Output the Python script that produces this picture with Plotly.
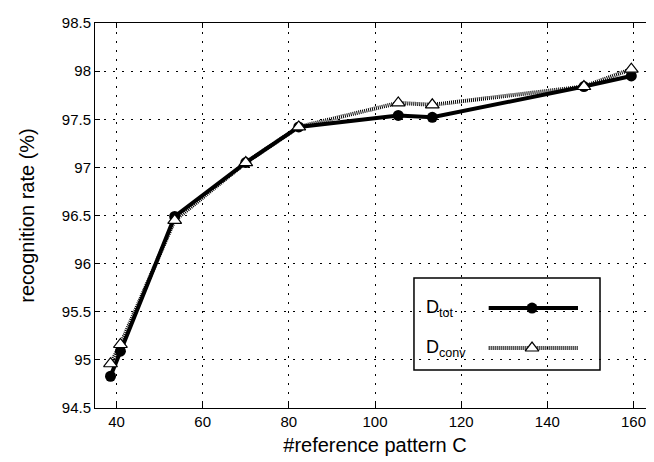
import plotly.graph_objects as go

# ---- data ----
x_vals = [38.6, 40.9, 53.5, 70.0, 82.3, 105.4, 113.3, 148.5, 159.5]
y_tot = [94.83, 95.09, 96.49, 97.05, 97.42, 97.54, 97.52, 97.84, 97.95]
y_conv = [94.96, 95.16, 96.45, 97.05, 97.42, 97.67, 97.65, 97.84, 98.02]
x_ticks = [40, 60, 80, 100, 120, 140, 160]
y_ticks = [94.5, 95, 95.5, 96, 96.5, 97, 97.5, 98, 98.5]
series_names = ["D<sub>tot</sub>", "D<sub>conv</sub>"]

FONT = "Liberation Sans, Arial, sans-serif"

fig = go.Figure()

fig.add_trace(go.Scatter(
    x=x_vals, y=y_tot, mode="lines+markers", name=series_names[0],
    line=dict(color="black", width=4),
    marker=dict(symbol="circle", size=11, color="black"),
    showlegend=False))
fig.add_trace(go.Scatter(
    x=x_vals, y=y_conv, mode="lines+markers", name=series_names[1],
    line=dict(color="black", width=4, dash="1px,1px"),
    marker=dict(symbol="triangle-up", size=12, color="white",
                line=dict(color="black", width=1.2)),
    showlegend=False))

# ---- custom legend (paper coordinates of the plot area) ----
lx0, lx1, ly0, ly1 = 0.5696, 0.9018, 0.0987, 0.3377
row_y = [0.2597, 0.1558]
seg_x0, seg_x1, mark_x = 0.703, 0.8625, 0.7804
text_x = 0.587

fig.add_shape(type="rect", xref="paper", yref="paper",
              x0=lx0, x1=lx1, y0=ly0, y1=ly1,
              line=dict(color="black", width=1.5), fillcolor="white", layer="between")

fig.add_trace(go.Scatter(
    x=[seg_x0, seg_x1], y=[row_y[0], row_y[0]], mode="lines",
    line=dict(color="black", width=4), xaxis="x2", yaxis="y2",
    showlegend=False, hoverinfo="skip"))
fig.add_trace(go.Scatter(
    x=[mark_x], y=[row_y[0]], mode="markers",
    marker=dict(symbol="circle", size=11, color="black"),
    xaxis="x2", yaxis="y2", showlegend=False, hoverinfo="skip"))
fig.add_trace(go.Scatter(
    x=[seg_x0, seg_x1], y=[row_y[1], row_y[1]], mode="lines",
    line=dict(color="black", width=4, dash="1px,1px"), xaxis="x2", yaxis="y2",
    showlegend=False, hoverinfo="skip"))
fig.add_trace(go.Scatter(
    x=[mark_x], y=[row_y[1]], mode="markers",
    marker=dict(symbol="triangle-up", size=12, color="white",
                line=dict(color="black", width=1.2)),
    xaxis="x2", yaxis="y2", showlegend=False, hoverinfo="skip"))

for name, yy in zip(series_names, row_y):
    fig.add_annotation(text=name, xref="paper", yref="paper",
                       x=text_x, y=yy - 0.002, xanchor="left", yanchor="middle",
                       showarrow=False, font=dict(family=FONT, size=18, color="black"))

axis_common = dict(
    showline=True, linecolor="black", linewidth=1, mirror="ticks",
    ticks="inside", ticklen=5, tickcolor="black",
    showgrid=True, gridcolor="black", gridwidth=1, griddash="2px,7px",
    zeroline=False, tickfont=dict(family=FONT, size=15, color="black"),
)

fig.update_layout(
    width=654, height=462,
    margin=dict(l=87, r=7, t=15, b=62),
    paper_bgcolor="white", plot_bgcolor="white",
    font=dict(family=FONT, color="black"),
    xaxis=dict(range=[35, 165], tickvals=x_ticks, **axis_common,
               title=dict(text="#reference pattern C",
                          font=dict(family=FONT, size=20), standoff=8)),
    yaxis=dict(range=[94.5, 98.5], tickvals=y_ticks,
               ticktext=[("%g" % v) for v in y_ticks], **axis_common,
               title=dict(text="recognition rate (%)",
                          font=dict(family=FONT, size=20), standoff=21)),
    xaxis2=dict(overlaying="x", range=[0, 1], visible=False, domain=[0, 1]),
    yaxis2=dict(overlaying="y", range=[0, 1], visible=False, domain=[0, 1]),
)

fig.write_html("out.html")
